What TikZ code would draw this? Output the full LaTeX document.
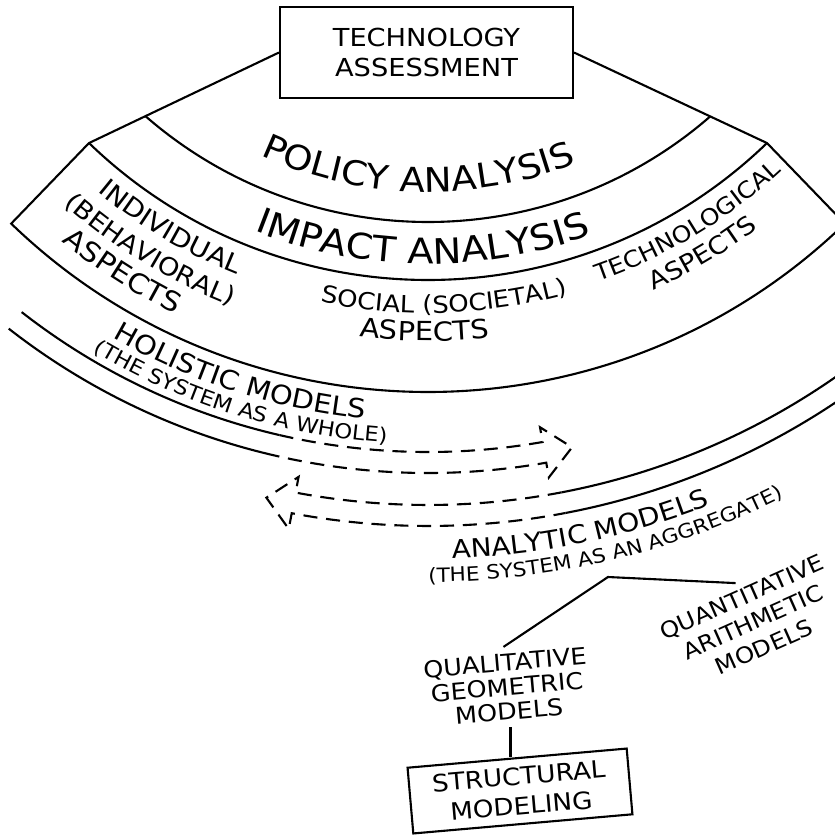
\documentclass[tikz,border=0pt]{standalone}
\usepackage{fontspec}
\setmainfont{DejaVu Sans}[FakeStretch=1.1]
\usetikzlibrary{decorations.text}
\newcommand{\arclabel}[4]{\path[decorate,decoration={text along path,text align=center,
        text={|\fontsize{#3}{#3}\selectfont|#4}}]
        ({#2-45}:#1) arc[start angle={#2-45},end angle={#2+45},radius=#1];}
\begin{document}
\begin{tikzpicture}[x=0.02cm,y=0.02cm,line width=1.2pt,
        every node/.style={font=\fontsize{14.1pt}{17pt}\selectfont,align=center},
        dashline/.style={dash pattern=on 8pt off 5pt}]
        \useasboundingbox (-428,-208) rectangle (407,-1044);
        \clip (-428,-208) rectangle (407,-1044);
        \node[draw,minimum width=5.86cm,minimum height=1.82cm] (ta) at (-1.5,-260.5) {TECHNOLOGY\\ASSESSMENT};
        \coordinate (fl) at (-134:488);
        \coordinate (fr) at (-46:488);
        \draw (ta.west) -- (fl) -- (-134:600) arc[start angle=-134,end angle=-46,radius=600] -- (fr) -- (ta.east);
        \draw (fl) arc[start angle=-134,end angle=-46,radius=488];
        \draw (-131.1:430) arc[start angle=-131.1,end angle=-49,radius=430];
        \arclabel{400}{-91.5}{19.3pt}{POLICY ANALYSIS}
        \arclabel{472}{-90.7}{20pt}{IMPACT ANALYSIS}
        \arclabel{519}{-120.6}{14.5pt}{INDIVIDUAL}
        \arclabel{550}{-121.2}{14.1pt}{(BEHAVIORAL)}
        \arclabel{580}{-122.5}{15.5pt}{ASPECTS}
        \arclabel{521}{-88.2}{13.4pt}{SOCIAL (SOCIETAL)}
        \arclabel{549}{-90.4}{15pt}{ASPECTS}
        \arclabel{518}{-58.9}{13pt}{TECHNOLOGICAL}
        \arclabel{547}{-59.3}{14pt}{ASPECTS}
        \draw (-128:660) arc[start angle=-128,end angle=-103,radius=660];
        \draw (-128:681) arc[start angle=-128,end angle=-103,radius=681];
        \draw[dashline] (-103:660) arc[start angle=-103,end angle=-80,radius=660] -- (-80:645) -- (-77.6:671)
                -- (-80:696) -- (-80:681) arc[start angle=-80,end angle=-103,radius=681];
        \arclabel{630}{-107.9}{15pt}{HOLISTIC MODELS}
        \arclabel{652}{-107.3}{11.7pt}{(THE SYSTEM AS A WHOLE)}
        \draw (-79.2:713) arc[start angle=-79.2,end angle=-50,radius=713];
        \draw (-79.2:734) arc[start angle=-79.2,end angle=-50,radius=734];
        \draw[dashline] (-79.2:713) arc[start angle=-79.2,end angle=-100.7,radius=713] -- (-100.7:697) -- (-102.9:724)
                -- (-100.7:750) -- (-100.7:734) arc[start angle=-100.7,end angle=-79.2,radius=734];
        \arclabel{767}{-78.3}{14.5pt}{ANALYTIC MODELS}
        \arclabel{790}{-76.6}{11.2pt}{(THE SYSTEM AS AN AGGREGATE)}
        \coordinate (split) at (180,-785);
        \node[rotate=5,font=\fontsize{13.2pt}{14pt}\selectfont] (qual) at (79,-895) {QUALITATIVE\\GEOMETRIC\\MODELS};
        \node[rotate=24,font=\fontsize{12.7pt}{15.5pt}\selectfont] (quant) at (325,-830) {QUANTITATIVE\\ARITHMETIC\\MODELS};
        \node[draw,rotate=5,font=\fontsize{13.6pt}{17pt}\selectfont,minimum width=4.4cm,minimum height=1.32cm] (smod) at (92,-999) {STRUCTURAL\\MODELING};
        \draw (qual.north) -- (split) -- (quant.north);
        \draw (qual.south) -- (qual.south |- smod.north);
        \end{tikzpicture}
\end{document}
